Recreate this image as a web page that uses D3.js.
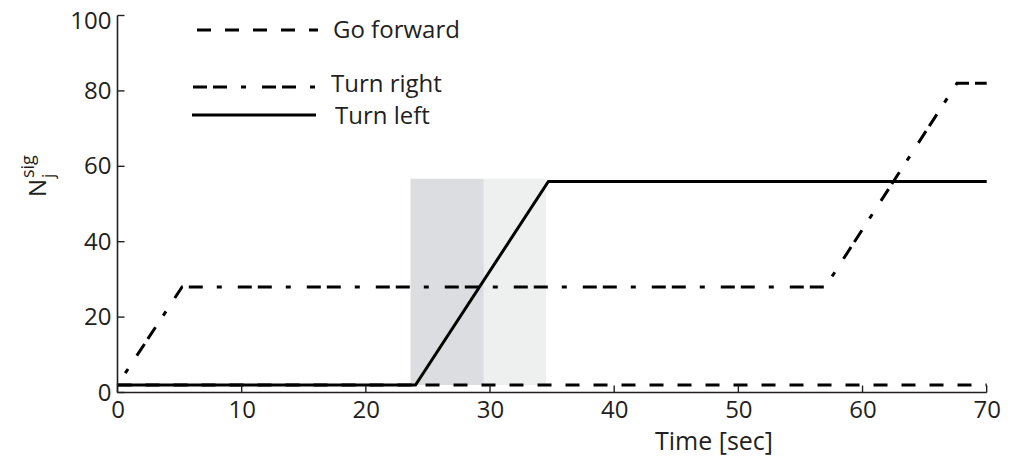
<!DOCTYPE html>
<html>
<head>
<meta charset="utf-8">
<script src="https://cdn.jsdelivr.net/npm/d3@7/dist/d3.min.js"></script>
<style>
  html, body { margin: 0; padding: 0; background: #fff; }
  svg { display: block; }
  text { font-family: "Open Sans", "Noto Sans", sans-serif; fill: #231f20; }
</style>
</head>
<body>
<svg id="chart" width="1010" height="464"></svg>
<script>
// Signal counts per command over time
const goForwardT = [0, 70];
const goForwardN = [2, 2];

const turnRightT = [0, 5.2, 57, 67.6, 70];
const turnRightN = [2, 28, 28, 82, 82];

const turnLeftT = [0, 24, 34.7, 70];
const turnLeftN = [2, 2, 56, 56];

// Shaded time windows [start, end] and their vertical extent
const windowStart = [23.6, 29.5];
const windowEnd = [29.5, 34.5];
const windowFill = ["#dcdde0", "#eef0ef"];
const windowLow = 2;
const windowHigh = 56.7;

const xTicks = [0, 10, 20, 30, 40, 50, 60, 70];
const yTicks = [0, 20, 40, 60, 80, 100];

const legendLabels = ["Go forward", "Turn right", "Turn left"];

const svg = d3.select("#chart");
const ink = "#231f20";
const tickFont = 24;
const labelFont = 25;

const x = d3.scaleLinear().domain([0, 70]).range([117.5, 986.7]);
const y = d3.scaleLinear().domain([0, 100]).range([392.5, 15.5]);

// shaded windows
svg.append("g").selectAll("rect")
  .data(windowStart.map((s, i) => ({ s, e: windowEnd[i], fill: windowFill[i] })))
  .join("rect")
  .attr("x", d => x(d.s))
  .attr("width", d => x(d.e) - x(d.s))
  .attr("y", y(windowHigh))
  .attr("height", y(windowLow) - y(windowHigh))
  .attr("fill", d => d.fill);

const line = d3.line().x(d => x(d[0])).y(d => y(d[1]));
const zip = (ts, ns) => ts.map((t, i) => [t, ns[i]]);

const styles = {
  forward: { dash: "14,14", offset: 0 },
  right: { dash: "14,6,14,14,5,16", offset: 33.9 },
  left: { dash: null, offset: 0 }
};

function drawSeries(pts, st) {
  svg.append("path")
    .attr("d", line(pts))
    .attr("fill", "none")
    .attr("stroke", "#000")
    .attr("stroke-width", 3)
    .attr("stroke-linejoin", "miter")
    .attr("stroke-dasharray", st.dash)
    .attr("stroke-dashoffset", st.offset);
}

drawSeries(zip(goForwardT, goForwardN), styles.forward);
drawSeries(zip(turnRightT, turnRightN), styles.right);
drawSeries(zip(turnLeftT, turnLeftN), styles.left);

// axes: ticks point inward
const xAxis = d3.axisBottom(x).tickValues(xTicks).tickSize(0).tickPadding(10);
const gx = svg.append("g").attr("transform", `translate(0,${y(0)})`).call(xAxis);
gx.select(".domain").remove();
gx.selectAll("text").attr("font-size", tickFont).attr("fill", ink)
  .attr("font-family", '"Open Sans", sans-serif').attr("dy", "0.75em").attr("y", 7);
svg.append("line").attr("x1", x(0)).attr("x2", x(70)).attr("y1", y(0)).attr("y2", y(0))
  .attr("stroke", ink).attr("stroke-width", 1.6);
svg.append("g").selectAll("line").data(xTicks).join("line")
  .attr("x1", d => x(d)).attr("x2", d => x(d))
  .attr("y1", y(0)).attr("y2", y(0) - 7)
  .attr("stroke", ink).attr("stroke-width", 1.4);

const yAxis = d3.axisLeft(y).tickValues(yTicks).tickSize(0).tickPadding(6);
const gy = svg.append("g").attr("transform", `translate(${x(0)},0)`).call(yAxis);
gy.select(".domain").remove();
gy.selectAll("text").attr("font-size", tickFont).attr("fill", ink)
  .attr("font-family", '"Open Sans", sans-serif')
  .attr("y", d => (d === 100 ? 5 : 0));
svg.append("line").attr("x1", x(0)).attr("x2", x(0)).attr("y1", y(0)).attr("y2", y(100))
  .attr("stroke", ink).attr("stroke-width", 1.6);
svg.append("g").selectAll("line").data(yTicks).join("line")
  .attr("x1", x(0)).attr("x2", x(0) + 7)
  .attr("y1", d => y(d)).attr("y2", d => y(d))
  .attr("stroke", ink).attr("stroke-width", 1.4);

// axis titles
svg.append("text").attr("x", 714).attr("y", 450).attr("text-anchor", "middle")
  .attr("font-size", labelFont).text("Time [sec]");

const yl = svg.append("g").attr("transform", "translate(46,197) rotate(-90)");
yl.append("text").attr("x", 0).attr("y", 0).attr("font-size", 24).text("N");
yl.append("text").attr("x", 19).attr("y", 8).attr("font-size", 17).text("j");
yl.append("text").attr("x", 19).attr("y", -12).attr("font-size", 18).text("sig");

// legend
const legend = [
  { label: legendLabels[0], x1: 197, x2: 318, ly: 30, ty: 30, tx: 333, dash: styles.forward.dash },
  { label: legendLabels[1], x1: 193, x2: 315, ly: 87, ty: 84, tx: 331, dash: styles.right.dash },
  { label: legendLabels[2], x1: 192, x2: 316, ly: 115, ty: 116, tx: 335, dash: null }
];
const lg = svg.append("g").selectAll("g").data(legend).join("g");
lg.append("line")
  .attr("x1", d => d.x1).attr("x2", d => d.x2)
  .attr("y1", d => d.ly).attr("y2", d => d.ly)
  .attr("stroke", "#000").attr("stroke-width", 3)
  .attr("stroke-dasharray", d => d.dash);
lg.append("text")
  .attr("x", d => d.tx).attr("y", d => d.ty).attr("dy", "0.35em")
  .attr("font-size", 24).text(d => d.label);
</script>
</body>
</html>
